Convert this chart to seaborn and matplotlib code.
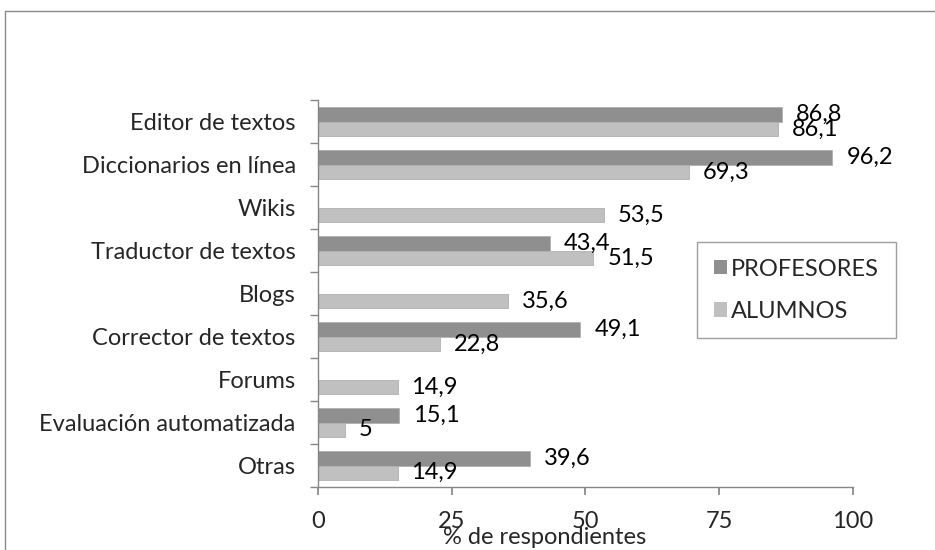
import numpy as np
import pandas as pd
import seaborn as sns
import matplotlib.pyplot as plt
from matplotlib.lines import Line2D

categorias = ['Editor de textos', 'Diccionarios en línea', 'Wikis', 'Traductor de textos',
              'Blogs', 'Corrector de textos', 'Forums', 'Evaluación automatizada', 'Otras']
profesores = [86.8, 96.2, np.nan, 43.4, np.nan, 49.1, np.nan, 15.1, 39.6]
alumnos = [86.1, 69.3, 53.5, 51.5, 35.6, 22.8, 14.9, 5, 14.9]
xticks = [0, 25, 50, 75, 100]

sns.set_theme(style="white")
plt.rcParams['font.family'] = ['Lato', 'DejaVu Sans']
fs = 17

df = pd.DataFrame({
    'categoria': categorias * 2,
    'valor': profesores + alumnos,
    'grupo': ['PROFESORES'] * len(categorias) + ['ALUMNOS'] * len(categorias),
})

fig = plt.figure(figsize=(9.35, 5.5), dpi=100)
ax = fig.add_axes([0.340, 0.1145, 0.572, 0.7035])

sns.barplot(data=df, y='categoria', x='valor', hue='grupo', order=categorias,
            hue_order=['PROFESORES', 'ALUMNOS'], palette=['#8f8f8f', '#c0c0c0'],
            errorbar=None, width=0.68, orient='h', edgecolor='#b0b0b0', linewidth=0.6,
            saturation=1, ax=ax)

# value labels with decimal comma
for cont in ax.containers:
    labs = []
    for b in cont:
        w = b.get_width()
        labs.append('' if np.isnan(w) else f'{w:g}'.replace('.', ','))
    ax.bar_label(cont, labels=labs, padding=10, fontsize=fs, color='black')

ax.set_xlim(0, 100)
ax.set_ylim(len(categorias) - 0.5, -0.5)
ax.set_xticks(xticks)
ax.set_xticklabels([str(t) for t in xticks], fontsize=fs)
ax.set_yticks(range(len(categorias)))
ax.set_yticklabels(categorias, fontsize=fs)
ax.set_yticks(np.arange(-0.5, len(categorias)), minor=True)
ax.tick_params(axis='y', which='major', length=0, pad=16)
ax.tick_params(axis='y', which='minor', length=6, color='#868686', direction='out', left=True)
ax.tick_params(axis='x', length=6, color='#868686', direction='out', bottom=True, pad=11)
ax.set_xlabel('')
ax.set_ylabel('')

for s in ['top', 'right']:
    ax.spines[s].set_visible(False)
for s in ['left', 'bottom']:
    ax.spines[s].set_color('#868686')
    ax.spines[s].set_linewidth(1)

leg = ax.legend(loc='upper left', bbox_to_anchor=(697 / 935, 1 - 242 / 550),
                bbox_transform=fig.transFigure, fontsize=fs, frameon=True,
                fancybox=False, handlelength=0.55, handleheight=0.55, handletextpad=0.2,
                labelspacing=0.9, borderpad=0.7, borderaxespad=0)
leg.get_frame().set_edgecolor('#868686')
leg.get_frame().set_linewidth(1)
for h in leg.legend_handles:
    h.set_edgecolor('none')

fig.text(545 / 935, 1 - 537 / 550, '% de respondientes', ha='center', va='center', fontsize=fs)

# outer chart border
fig.add_artist(Line2D([4.5 / 935, 4.5 / 935], [0, 1 - 10.5 / 550], color='#8a8a8a', lw=1))
fig.add_artist(Line2D([4.5 / 935, 1], [1 - 10.5 / 550, 1 - 10.5 / 550], color='#8a8a8a', lw=1))

fig.savefig('out.png', dpi=100)
plt.close('all')
